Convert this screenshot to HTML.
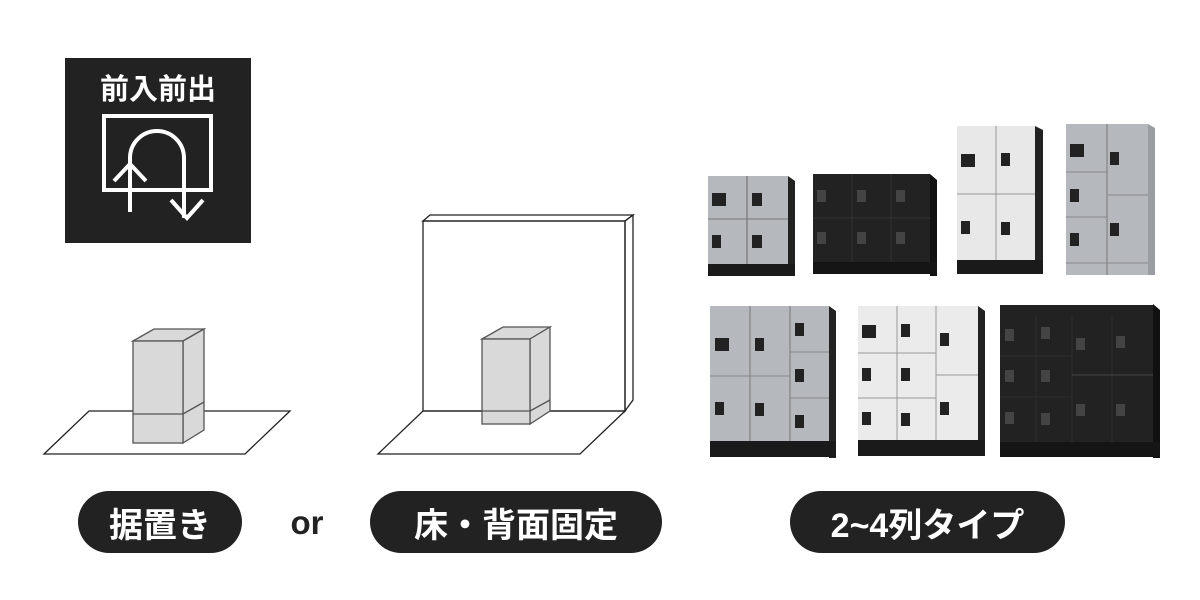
<!DOCTYPE html>
<html><head><meta charset="utf-8"><style>
html,body{margin:0;padding:0;background:#fff;width:1200px;height:600px;overflow:hidden}
.pill{position:absolute;background:#222;color:#fff;border-radius:31px;height:62px;top:491px;display:flex;align-items:center;justify-content:center;font-family:"Liberation Sans","Noto Sans CJK JP",sans-serif;font-weight:bold;font-size:34px}
</style></head><body>
<svg width="1200" height="600" style="position:absolute;left:0;top:0" font-family="Liberation Sans, Noto Sans CJK JP, sans-serif">
<rect x="65" y="58" width="186" height="185" fill="#222"/>
<text x="158" y="99" fill="#fff" font-size="29" font-weight="bold" text-anchor="middle">前入前出</text>
<rect x="104" y="116" width="107" height="74" fill="none" stroke="#fff" stroke-width="4"/>
<path d="M130 212 V158 A27 27 0 0 1 184 158 V218" fill="none" stroke="#fff" stroke-width="4"/>
<path d="M114 181 L130 164 L146 181" fill="none" stroke="#fff" stroke-width="4"/>
<path d="M171 200 L187 218 L203 200" fill="none" stroke="#fff" stroke-width="4"/>
<g stroke="#222" stroke-width="1.3" fill="none">
<polygon points="44,454 89,411 290,411 245,454" fill="#fff"/>
<polygon points="133,341 154,329 204,329 183,341" fill="#d9d9d9" stroke="#555"/>
<polygon points="183,341 204,329 204,430 183,443" fill="#d9d9d9" stroke="#555"/>
<rect x="133" y="341" width="50" height="102" fill="#d9d9d9" stroke="#555"/>
<line x1="133" y1="414" x2="183" y2="414" stroke="#555"/>
<line x1="183" y1="414" x2="204" y2="402" stroke="#555"/>
</g>
<g stroke="#222" stroke-width="1.3" fill="none">
<polygon points="378,454 423,411 625,411 580,454"/>
<rect x="423" y="221" width="202" height="190"/>
<polygon points="423,221 430,215 633,215 625,221"/>
<polygon points="625,221 633,215 633,400 625,411"/>
<polygon points="482,339 503,327 550,327 530,339" fill="#d9d9d9" stroke="#555"/>
<polygon points="530,339 550,327 550,411 530,424" fill="#d9d9d9" stroke="#555"/>
<rect x="482" y="339" width="48" height="85" fill="#d9d9d9" stroke="#555"/>
<line x1="482" y1="411" x2="530" y2="411" stroke="#555"/>
<line x1="530" y1="411" x2="550" y2="400" stroke="#555"/>
</g>
<g>
<polygon points="788,176 795,181 795,276 788,276" fill="#222"/>
<rect x="708" y="176" width="80" height="88" fill="#b5b9be"/>
<rect x="708" y="264" width="87" height="12" fill="#1a1a1a"/>
<line x1="747" y1="176" x2="747" y2="264" stroke="#666"/>
<line x1="708" y1="219" x2="788" y2="219" stroke="#777"/>
<rect x="712" y="193" width="14" height="13" fill="#222"/><rect x="752" y="193" width="10" height="13" fill="#222"/>
<rect x="712" y="235" width="9" height="13" fill="#222"/><rect x="752" y="235" width="10" height="13" fill="#222"/>
</g>
<g>
<polygon points="930,174 937,180 937,276 930,276" fill="#111"/>
<rect x="813" y="174" width="117" height="90" fill="#222"/>
<rect x="813" y="262" width="124" height="12" fill="#151515"/>
<line x1="852" y1="174" x2="852" y2="262" stroke="#333"/><line x1="891" y1="174" x2="891" y2="262" stroke="#333"/>
<line x1="813" y1="218" x2="930" y2="218" stroke="#333"/>
<g fill="#444"><rect x="817" y="190" width="9" height="12"/><rect x="857" y="190" width="9" height="12"/><rect x="896" y="190" width="9" height="12"/>
<rect x="817" y="232" width="9" height="12"/><rect x="857" y="232" width="9" height="12"/><rect x="896" y="232" width="9" height="12"/></g>
</g>
<g>
<polygon points="1035,126 1043,130 1043,274 1035,274" fill="#222"/>
<rect x="957" y="126" width="78" height="136" fill="#e8e8e8"/>
<rect x="957" y="260" width="86" height="14" fill="#1a1a1a"/>
<line x1="996" y1="126" x2="996" y2="260" stroke="#999"/>
<line x1="957" y1="194" x2="1035" y2="194" stroke="#999"/>
<rect x="961" y="154" width="14" height="13" fill="#222"/><rect x="1001" y="153" width="9" height="13" fill="#222"/>
<rect x="961" y="221" width="9" height="13" fill="#222"/><rect x="1001" y="222" width="9" height="13" fill="#222"/>
</g>
<g>
<polygon points="1148,124 1155,128 1155,275 1148,275" fill="#9a9ea3"/>
<rect x="1066" y="124" width="82" height="151" fill="#b5b9be"/>
<line x1="1107" y1="124" x2="1107" y2="275" stroke="#777"/>
<line x1="1066" y1="172" x2="1107" y2="172" stroke="#888"/><line x1="1066" y1="217" x2="1107" y2="217" stroke="#888"/>
<line x1="1107" y1="195" x2="1148" y2="195" stroke="#888"/>
<line x1="1066" y1="263" x2="1148" y2="263" stroke="#888"/>
<rect x="1070" y="144" width="14" height="13" fill="#222"/><rect x="1110" y="152" width="9" height="13" fill="#222"/>
<rect x="1070" y="189" width="9" height="13" fill="#222"/><rect x="1070" y="233" width="9" height="13" fill="#222"/>
<rect x="1110" y="223" width="9" height="13" fill="#222"/>
</g>
<g>
<polygon points="829,306 836,311 836,458 829,458" fill="#222"/>
<rect x="710" y="306" width="119" height="137" fill="#b5b9be"/>
<rect x="710" y="441" width="126" height="16" fill="#1a1a1a"/>
<line x1="750" y1="306" x2="750" y2="441" stroke="#777"/><line x1="790" y1="306" x2="790" y2="441" stroke="#777"/>
<line x1="710" y1="376" x2="790" y2="376" stroke="#888"/>
<line x1="790" y1="352" x2="829" y2="352" stroke="#888"/><line x1="790" y1="398" x2="829" y2="398" stroke="#888"/>
<g fill="#222"><rect x="715" y="338" width="14" height="13"/><rect x="755" y="338" width="9" height="13"/><rect x="795" y="323" width="9" height="13"/>
<rect x="795" y="369" width="9" height="13"/><rect x="715" y="402" width="9" height="13"/><rect x="755" y="403" width="9" height="13"/><rect x="795" y="415" width="9" height="13"/></g>
</g>
<g>
<polygon points="978,306 985,311 985,456 978,456" fill="#222"/>
<rect x="858" y="306" width="120" height="136" fill="#ebebeb"/>
<rect x="858" y="440" width="127" height="16" fill="#1a1a1a"/>
<line x1="897" y1="306" x2="897" y2="440" stroke="#999"/><line x1="936" y1="306" x2="936" y2="440" stroke="#999"/>
<line x1="858" y1="353" x2="936" y2="353" stroke="#999"/><line x1="858" y1="398" x2="936" y2="398" stroke="#999"/>
<line x1="936" y1="375" x2="978" y2="375" stroke="#999"/>
<g fill="#222"><rect x="862" y="325" width="14" height="13"/><rect x="901" y="324" width="9" height="13"/><rect x="940" y="333" width="9" height="13"/>
<rect x="862" y="368" width="9" height="13"/><rect x="901" y="368" width="9" height="13"/><rect x="940" y="402" width="9" height="13"/>
<rect x="862" y="412" width="9" height="13"/><rect x="901" y="413" width="9" height="13"/></g>
</g>
<g>
<polygon points="1153,304 1160,310 1160,458 1153,458" fill="#111"/>
<rect x="1000" y="305" width="153" height="139" fill="#222"/>
<rect x="1000" y="442" width="160" height="15" fill="#151515"/>
<line x1="1036" y1="315" x2="1036" y2="442" stroke="#2e2e2e"/><line x1="1072" y1="315" x2="1072" y2="442" stroke="#2e2e2e"/><line x1="1112" y1="315" x2="1112" y2="442" stroke="#2e2e2e"/>
<line x1="1072" y1="375" x2="1153" y2="375" stroke="#444"/>
<line x1="1000" y1="356" x2="1072" y2="356" stroke="#2e2e2e"/><line x1="1000" y1="397" x2="1072" y2="397" stroke="#2e2e2e"/>
<g fill="#444"><rect x="1005" y="329" width="9" height="12"/><rect x="1041" y="327" width="9" height="12"/><rect x="1076" y="338" width="9" height="12"/><rect x="1116" y="336" width="9" height="12"/>
<rect x="1005" y="370" width="9" height="12"/><rect x="1041" y="370" width="9" height="12"/>
<rect x="1005" y="412" width="9" height="12"/><rect x="1041" y="413" width="9" height="12"/><rect x="1076" y="404" width="9" height="12"/><rect x="1116" y="404" width="9" height="12"/></g>
</g>
<text x="307" y="534" font-size="33" font-weight="bold" fill="#222" text-anchor="middle">or</text>
</svg>
<div class="pill" style="left:78px;width:164px">据置き</div>
<div class="pill" style="left:370px;width:292px">床・背面固定</div>
<div class="pill" style="left:790px;width:275px">2~4列タイプ</div>
</body></html>
